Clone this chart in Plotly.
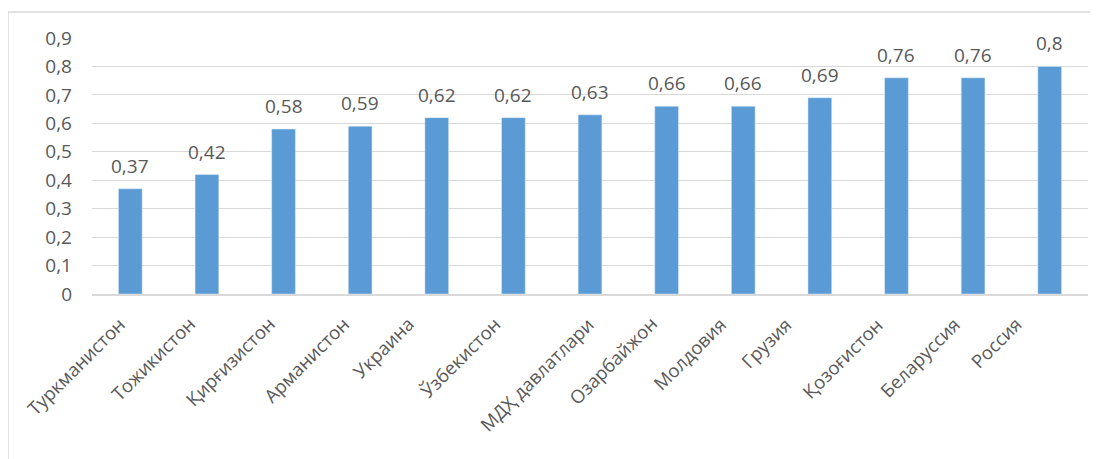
import plotly.graph_objects as go

categories = ["Туркманистон", "Тожикистон", "Қирғизистон", "Арманистон", "Украина",
              "Ўзбекистон", "МДҲ давлатлари", "Озарбайжон", "Молдовия", "Грузия",
              "Қозоғистон", "Беларуссия", "Россия"]
values = [0.37, 0.42, 0.58, 0.59, 0.62, 0.62, 0.63, 0.66, 0.66, 0.69, 0.76, 0.76, 0.8]
tick_vals = [0, 0.1, 0.2, 0.3, 0.4, 0.5, 0.6, 0.7, 0.8, 0.9]
tick_text = ["0", "0,1", "0,2", "0,3", "0,4", "0,5", "0,6", "0,7", "0,8", "0,9"]

labels = [("%g" % v).replace(".", ",") for v in values]
FONT = "Open Sans"
GRAY = "#595959"

fig = go.Figure(go.Bar(
    x=categories, y=values,
    marker=dict(color="#5b9bd5"), cliponaxis=False,
))

# data labels above bars
for c, v, t in zip(categories, values, labels):
    fig.add_annotation(x=c, y=v, xref="x", yref="y", text=t, showarrow=False,
                       xanchor="center", yanchor="bottom", yshift=8,
                       font=dict(family=FONT, size=19, color=GRAY))

# category labels (rotated, Excel-style placement)
for c in categories:
    fig.add_annotation(x=c, y=0, xref="x", yref="y", text=c, showarrow=False,
                       textangle=-45, xanchor="center", yanchor="top",
                       xshift=-54, yshift=-15,
                       font=dict(family=FONT, size=18.5, color=GRAY))

W, H = 1090, 451
L, R, T, B = 84, 10, 30, 165
pw, ph = W - L - R, H - T - B
fx0 = (0 - L) / pw
fy1 = 1 + (T - 4) / ph
fig.add_shape(type="rect", xref="paper", yref="paper",
              x0=fx0, x1=1 + (R + 20) / pw, y0=-(B + 20) / ph, y1=fy1,
              line=dict(color="#d9d9d9", width=1.5), fillcolor="rgba(0,0,0,0)", layer="below")

fig.update_layout(
    width=W, height=H, margin=dict(l=L, r=R, t=T, b=B, autoexpand=False),
    paper_bgcolor="white", plot_bgcolor="white",
    bargap=0.69, showlegend=False,
    font=dict(family=FONT, color=GRAY),
    xaxis=dict(showticklabels=False, showline=True, range=[-0.5, len(categories) - 0.5],
               autorange=False, linecolor="#d9d9d9", linewidth=1.5, ticks="",
               showgrid=False, automargin=False),
    yaxis=dict(range=[0, 0.9], autorange=False, tickvals=tick_vals, ticktext=tick_text,
               tickfont=dict(size=19, color=GRAY), showgrid=True, gridcolor="#d9d9d9",
               gridwidth=1.2, zeroline=False, ticks="", ticklabelstandoff=19,
               automargin=False),
)
fig.write_html("out.html")
